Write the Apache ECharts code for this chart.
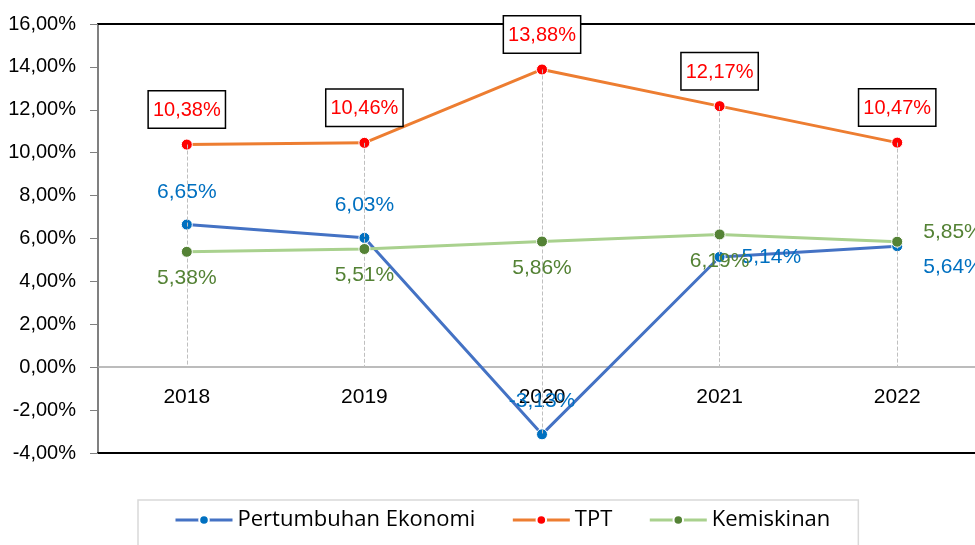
<!DOCTYPE html>
<html><head><meta charset="utf-8">
<script src="https://cdn.jsdelivr.net/npm/echarts@6/dist/echarts.min.js"></script>
<style>html,body{margin:0;padding:0;background:#fff}#c{width:975px;height:545px}</style>
</head><body><div id="c"></div>
<script>
var categories = ['2018', '2019', '2020', '2021', '2022'];
var pertumbuhan = [6.65, 6.03, -3.13, 5.14, 5.64];
var tpt = [10.38, 10.46, 13.88, 12.17, 10.47];
var kemiskinan = [5.38, 5.51, 5.86, 6.19, 5.85];
var yTicks = { min: -4, max: 16, interval: 2 };
var seriesNames = ['Pertumbuhan Ekonomi', 'TPT', 'Kemiskinan'];

var NARROW = '"Liberation Sans Narrow","Liberation Sans",Arial,sans-serif';
function pct(v) { return v.toFixed(2).replace('.', ',') + '%'; }

var GRID_TOP = 24, GRID_H = 429;
var zeroOffset = -GRID_H * (0 - yTicks.min) / (yTicks.max - yTicks.min);

var bluePos = [
  { position: 'top', distance: 16 },
  { position: 'top', distance: 16 },
  { position: 'top', distance: 17 },
  { position: 'right', distance: 16 },
  { position: 'right', distance: 20, offset: [0, 21] }
];
var greenPos = [
  { position: 'bottom', distance: 10 },
  { position: 'bottom', distance: 10 },
  { position: 'bottom', distance: 10 },
  { position: 'bottom', distance: 10 },
  { position: 'right', distance: 20, offset: [0, -10] }
];
function withLabels(vals, pos) {
  return vals.map(function (v, i) { return { value: v, label: pos[i] }; });
}
var dropLines = categories.map(function (c, i) {
  var hi = Math.max(pertumbuhan[i], tpt[i], kemiskinan[i], 0);
  var lo = Math.min(pertumbuhan[i], tpt[i], kemiskinan[i], 0);
  return [{ coord: [c, hi] }, { coord: [c, lo] }];
});
var frameAxis = function (pos) {
  return {
    type: 'category', data: categories, position: pos, offset: 0,
    axisLine: { show: true, onZero: false, lineStyle: { color: '#000', width: 2 } },
    axisTick: { show: false }, axisLabel: { show: false }, splitLine: { show: false }
  };
};

var chart = echarts.init(document.getElementById('c'));
chart.setOption({
  animation: false,
  grid: { left: 98, top: GRID_TOP, width: 888, height: GRID_H, outerBoundsMode: 'none', containLabel: false },
  legend: {
    data: seriesNames,
    left: 138, top: 500,
    padding: [9, 28, 16, 36],
    itemGap: 36,
    itemWidth: 57, itemHeight: 12,
    lineStyle: { width: 3 },
    borderColor: '#d9d9d9', borderWidth: 1.5,
    textStyle: { fontFamily: '"Open Sans",sans-serif', fontSize: 22, color: '#000' }
  },
  xAxis: [
    {
      type: 'category', data: categories, boundaryGap: true, position: 'bottom',
      offset: zeroOffset,
      axisLine: { onZero: false, lineStyle: { color: '#a6a6a6', width: 1.5 } },
      axisTick: { show: false },
      axisLabel: { margin: 20, fontFamily: NARROW, fontSize: 21, color: '#000' },
      splitLine: { show: false }
    },
    frameAxis('top'),
    frameAxis('bottom')
  ],
  yAxis: {
    type: 'value', min: yTicks.min, max: yTicks.max, interval: yTicks.interval,
    axisLine: { show: true, lineStyle: { color: '#808080', width: 2 } },
    axisTick: { show: true, length: 8, lineStyle: { color: '#808080', width: 1 } },
    axisLabel: { margin: 22, fontFamily: NARROW, fontSize: 20, color: '#000', formatter: pct },
    splitLine: { show: false }
  },
  series: [
    {
      name: 'drop', type: 'line', data: [], z: 1, silent: true,
      markLine: {
        symbol: 'none', silent: true, label: { show: false },
        lineStyle: { color: '#bfbfbf', type: 'dashed', width: 1 },
        data: dropLines
      }
    },
    {
      name: 'TPT', type: 'line', data: tpt, z: 3,
      lineStyle: { color: '#ED7D31', width: 3 },
      itemStyle: { color: '#FF0000', borderColor: '#fff', borderWidth: 1 },
      symbol: 'circle', symbolSize: 11,
      label: {
        show: true, position: 'top', distance: 11, formatter: function (p) { return pct(p.value); },
        fontFamily: NARROW, fontSize: 20, color: '#FF0000',
        borderColor: '#000', borderWidth: 1.5, backgroundColor: '#fff', padding: [9, 4, 7, 4]
      }
    },
    {
      name: 'Pertumbuhan Ekonomi', type: 'line', data: withLabels(pertumbuhan, bluePos), z: 4,
      lineStyle: { color: '#4472C4', width: 3 },
      itemStyle: { color: '#0070C0', borderColor: '#fff', borderWidth: 1 },
      symbol: 'circle', symbolSize: 11,
      label: { show: true, formatter: function (p) { return pct(p.value); }, fontFamily: NARROW, fontSize: 21, color: '#0070C0' }
    },
    {
      name: 'Kemiskinan', type: 'line', data: withLabels(kemiskinan, greenPos), z: 5,
      lineStyle: { color: '#A9D18E', width: 3 },
      itemStyle: { color: '#548235', borderColor: '#fff', borderWidth: 1 },
      symbol: 'circle', symbolSize: 11,
      label: { show: true, formatter: function (p) { return pct(p.value); }, fontFamily: NARROW, fontSize: 21, color: '#548235' }
    }
  ]
});
</script></body></html>
